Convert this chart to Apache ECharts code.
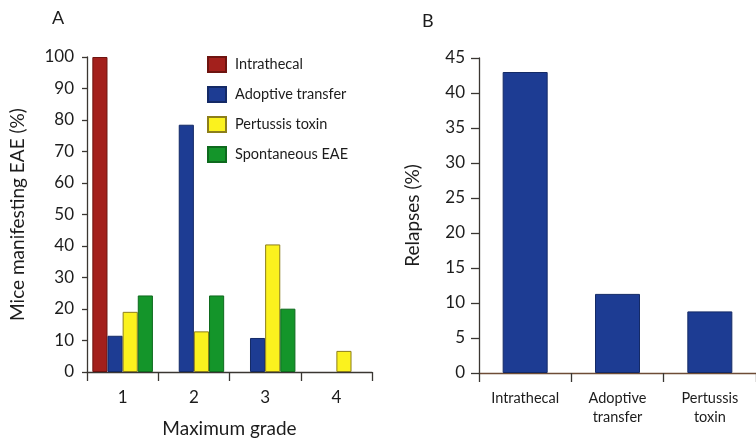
<!DOCTYPE html>
<html>
<head>
<meta charset="utf-8">
<script src="https://cdn.jsdelivr.net/npm/echarts@6/dist/echarts.min.js"></script>
<style>
  html, body { margin: 0; padding: 0; background: #ffffff; }
  #chart { width: 756px; height: 444px; }
</style>
</head>
<body>
<div id="chart"></div>
<script>
// Panel A: maximum grade reached, per induction method
const grades = ['1', '2', '3', '4'];
const intrathecal = [100, 0, 0, 0];
const adoptiveTransfer = [11.5, 78.5, 10.8, 0];
const pertussisToxin = [19.1, 12.9, 40.5, 6.7];
const spontaneousEAE = [24.3, 24.3, 20.1, 0];

// Panel B: relapse rate per induction method
const relapseGroups = ['Intrathecal', 'Adoptive\ntransfer', 'Pertussis\ntoxin'];
const relapses = [43.0, 11.3, 8.8];

const FONT = 'Lato';
const TEXT = '#1c1c1c';
const AXIS_A = '#3a3632';
const AXIS_B = '#6e4c36';

const chart = echarts.init(document.getElementById('chart'), null, { renderer: 'canvas' });

// zero-height bars get no outline so nothing is stroked along the axis
function withOutline(values) {
  return values.map(v => v === 0 ? { value: 0, itemStyle: { borderWidth: 0 } } : v);
}

function bar(name, data, color, border) {
  return {
    name: name,
    type: 'bar',
    xAxisIndex: 0,
    yAxisIndex: 0,
    data: withOutline(data),
    barGap: '0%',
    barCategoryGap: '15%',
    itemStyle: { color: color, borderColor: border, borderWidth: 1 },
    emphasis: { disabled: true }
  };
}

chart.setOption({
  animation: false,
  backgroundColor: '#ffffff',
  textStyle: { fontFamily: FONT, color: TEXT },
  title: [
    { text: 'A', left: 47, top: 4, textStyle: { fontFamily: FONT, fontSize: 18, fontWeight: 'normal', color: TEXT } },
    { text: 'B', left: 417, top: 7, textStyle: { fontFamily: FONT, fontSize: 18, fontWeight: 'normal', color: TEXT } }
  ],
  legend: {
    orient: 'vertical',
    left: 207,
    top: 56,
    padding: 0,
    itemWidth: 18,
    itemHeight: 15,
    itemGap: 13,
    icon: 'rect',
    selectedMode: false,
    textStyle: { fontFamily: FONT, fontSize: 14.5, color: TEXT, padding: [0, 0, 0, 4] },
    data: ['Intrathecal', 'Adoptive transfer', 'Pertussis toxin', 'Spontaneous EAE']
  },
  grid: [
    { left: 87, top: 57, width: 285, height: 315 },
    { left: 479, top: 58, width: 280, height: 315 }
  ],
  xAxis: [
    {
      type: 'category',
      gridIndex: 0,
      data: grades,
      name: 'Maximum grade',
      nameLocation: 'middle',
      nameGap: 47,
      nameTextStyle: { fontFamily: FONT, fontSize: 19, color: TEXT },
      axisLine: { lineStyle: { color: AXIS_A, width: 1.3 } },
      axisTick: { show: true, length: 9, alignWithLabel: false, lineStyle: { color: AXIS_A, width: 1.3 } },
      axisLabel: { fontFamily: FONT, fontSize: 17, color: TEXT, margin: 17 }
    },
    {
      type: 'category',
      gridIndex: 1,
      data: relapseGroups,
      axisLine: { lineStyle: { color: AXIS_B, width: 1.3 } },
      axisTick: { show: true, length: 9, lineStyle: { color: '#3a3632', width: 1.3 } },
      axisLabel: { fontFamily: FONT, fontSize: 14.5, color: TEXT, margin: 16, lineHeight: 19 }
    }
  ],
  yAxis: [
    {
      type: 'value',
      gridIndex: 0,
      min: 0,
      max: 100,
      interval: 10,
      name: 'Mice manifesting EAE (%)',
      nameLocation: 'middle',
      nameGap: 60,
      nameTextStyle: { fontFamily: FONT, fontSize: 19, color: TEXT },
      splitLine: { show: false },
      axisLine: { show: true, lineStyle: { color: AXIS_A, width: 1.3 } },
      axisTick: { show: true, length: 5, lineStyle: { color: AXIS_A, width: 1.3 } },
      axisLabel: { fontFamily: FONT, fontSize: 17, color: TEXT, margin: 13 }
    },
    {
      type: 'value',
      gridIndex: 1,
      min: 0,
      max: 45,
      interval: 5,
      name: 'Relapses (%)',
      nameLocation: 'middle',
      nameGap: 57,
      nameTextStyle: { fontFamily: FONT, fontSize: 19, color: TEXT },
      splitLine: { show: false },
      axisLine: { show: true, lineStyle: { color: '#3a3632', width: 1.3 } },
      axisTick: { show: true, length: 8, lineStyle: { color: '#3a3632', width: 1.3 } },
      axisLabel: { fontFamily: FONT, fontSize: 17, color: TEXT, margin: 14 }
    }
  ],
  series: [
    bar('Intrathecal', intrathecal, '#a3201c', '#6e1410'),
    bar('Adoptive transfer', adoptiveTransfer, '#1d3c93', '#142a66'),
    bar('Pertussis toxin', pertussisToxin, '#fbf21e', '#8c7e1a'),
    bar('Spontaneous EAE', spontaneousEAE, '#14952a', '#0e6a1e'),
    {
      name: 'Relapses',
      type: 'bar',
      xAxisIndex: 1,
      yAxisIndex: 1,
      data: relapses,
      barWidth: 45,
      itemStyle: { color: '#1d3c93', borderColor: '#142a66', borderWidth: 1 },
      emphasis: { disabled: true }
    }
  ]
});
</script>
</body>
</html>
